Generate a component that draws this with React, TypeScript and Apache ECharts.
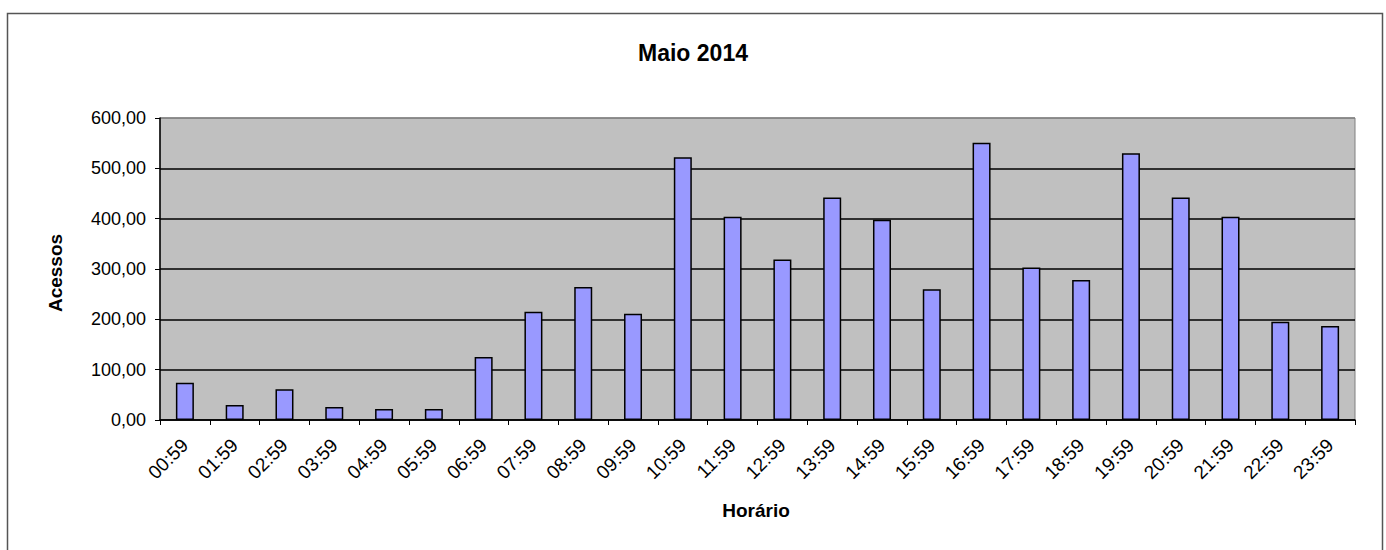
import React, { useEffect, useRef } from "react";
import * as echarts from "echarts";

const categories = [
  "00:59", "01:59", "02:59", "03:59", "04:59", "05:59", "06:59", "07:59",
  "08:59", "09:59", "10:59", "11:59", "12:59", "13:59", "14:59", "15:59",
  "16:59", "17:59", "18:59", "19:59", "20:59", "21:59", "22:59", "23:59",
];
const acessos = [
  74, 30, 61, 26, 22, 22, 125, 215, 264, 211, 522, 404,
  319, 442, 398, 260, 551, 303, 278, 530, 442, 404, 195, 187,
];
const titleText = "Maio 2014";
const yName = "Acessos";
const xName = "Horário";

export default function App() {
  const ref = useRef<HTMLDivElement>(null);
  useEffect(() => {
    document.body.style.margin = "0";
    if (!ref.current) return;
    const chart = echarts.init(ref.current, null, { renderer: "svg" });
    const font = "'Liberation Sans', Arial, sans-serif";
    chart.setOption({
      animation: false,
      textStyle: { fontFamily: font },
      title: {
        text: titleText,
        left: "center",
        top: 36,
        textStyle: { fontSize: 23, fontWeight: "bold", color: "#000", fontFamily: font },
      },
      graphic: [
        {
          type: "rect",
          shape: { x: 7.5, y: 13.5, width: 1375, height: 560 },
          style: { fill: "none", stroke: "#555", lineWidth: 1.5 },
          silent: true,
        },
        {
          type: "text",
          x: 756,
          y: 501,
          style: {
            text: xName,
            fontSize: 19,
            fontWeight: "bold",
            fill: "#000",
            fontFamily: font,
            align: "center",
            verticalAlign: "top",
          },
        },
        {
          type: "text",
          x: 46,
          y: 273,
          rotation: Math.PI / 2,
          style: {
            text: yName,
            fontSize: 19,
            fontWeight: "bold",
            fill: "#000",
            fontFamily: font,
            align: "center",
            verticalAlign: "top",
          },
        },
      ],
      grid: {
        left: 160,
        right: 31,
        top: 118,
        bottom: 130,
        show: true,
        backgroundColor: "#C0C0C0",
        borderColor: "#808080",
        borderWidth: 1,
      },
      xAxis: {
        type: "category",
        data: categories,
        boundaryGap: true,
        axisLine: { lineStyle: { color: "#000", width: 1.5 } },
        axisTick: { show: true, alignWithLabel: false, length: 5, lineStyle: { color: "#000" } },
        axisLabel: {
          rotate: 45,
          interval: 0,
          fontSize: 19,
          color: "#000",
          fontFamily: font,
          margin: 22,
        },
      },
      yAxis: {
        type: "value",
        min: 0,
        max: 600,
        interval: 100,
        axisLine: { show: true, lineStyle: { color: "#000", width: 1.5 } },
        axisTick: { show: true, length: 5, lineStyle: { color: "#000" } },
        axisLabel: {
          fontSize: 18,
          color: "#000",
          fontFamily: font,
          margin: 14,
          formatter: (v: number) => v.toFixed(2).replace(".", ","),
        },
        splitLine: {
          show: true,
          lineStyle: {
            color: ["#000", "#000", "#000", "#000", "#000", "#000", "#808080"],
            width: 1.5,
          },
        },
      },
      series: [
        {
          type: "bar",
          data: acessos,
          barWidth: 18,
          itemStyle: { color: "#9999FF", borderColor: "#000", borderWidth: 1.5 },
        },
      ],
    });
    return () => chart.dispose();
  }, []);
  return <div ref={ref} style={{ width: 1386, height: 550 }} />;
}
